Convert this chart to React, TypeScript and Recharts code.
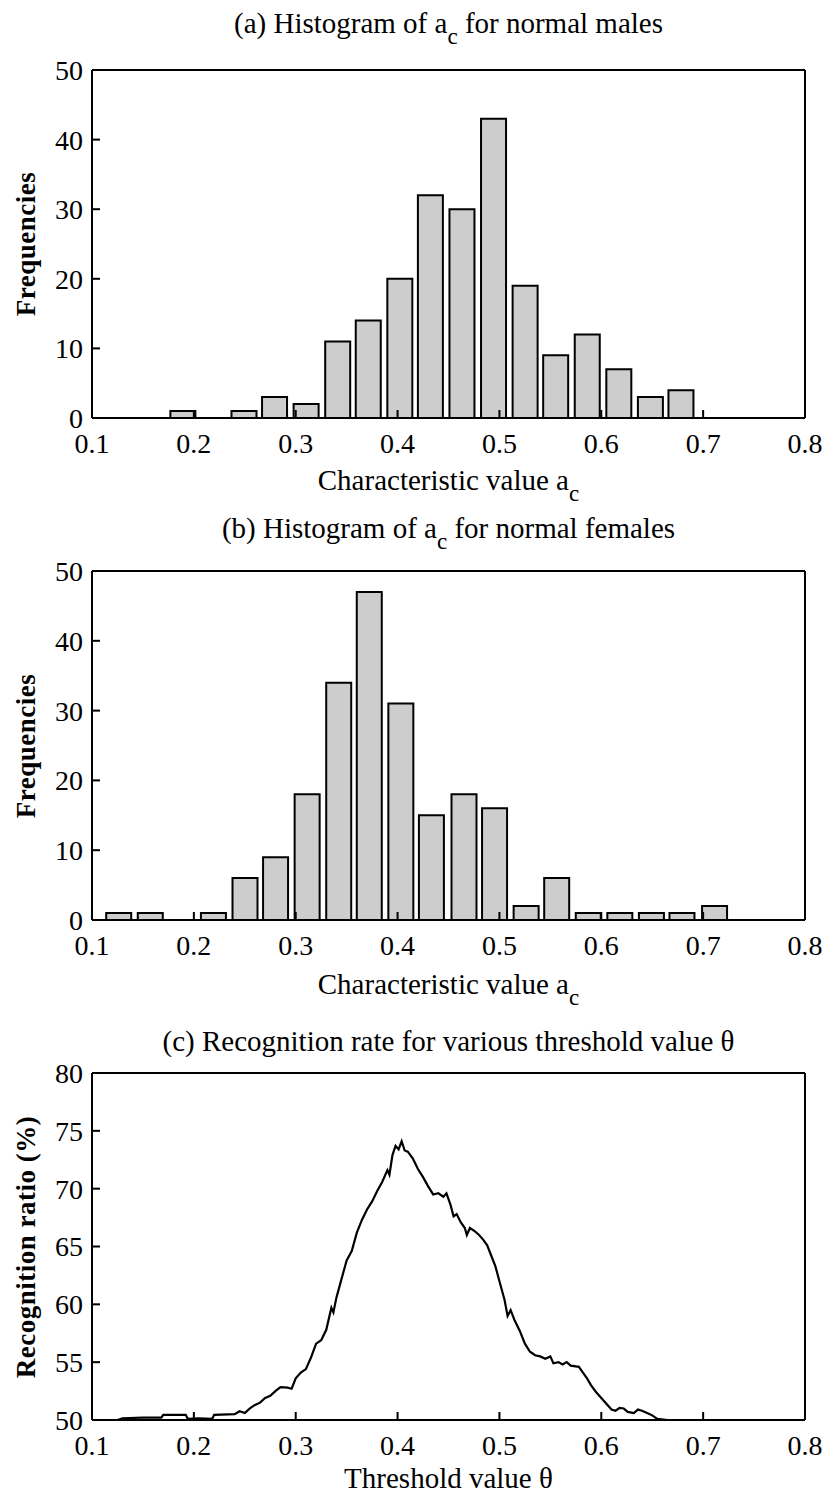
import React from 'react';
import { BarChart, Bar, LineChart, Line, XAxis, YAxis } from 'recharts';

const xTicks = [0.1, 0.2, 0.3, 0.4, 0.5, 0.6, 0.7, 0.8];
const freqTicks = [0, 10, 20, 30, 40, 50];
const rateTicks = [50, 55, 60, 65, 70, 75, 80];

const maleBins = [0.189, 0.219, 0.249, 0.279, 0.31, 0.341, 0.371, 0.402, 0.432, 0.463, 0.494, 0.525, 0.555, 0.586, 0.617, 0.648, 0.678];
const maleCounts = [1, 0, 1, 3, 2, 11, 14, 20, 32, 30, 43, 19, 9, 12, 7, 3, 4];

const femaleBins = [0.126, 0.157, 0.188, 0.219, 0.25, 0.28, 0.311, 0.342, 0.372, 0.403, 0.433, 0.465, 0.495, 0.526, 0.556, 0.587, 0.618, 0.649, 0.679, 0.711];
const femaleCounts = [1, 1, 0, 1, 6, 9, 18, 34, 47, 31, 15, 18, 16, 2, 6, 1, 1, 1, 1, 2];

const thresholds = [
  0.125, 0.13, 0.15, 0.168, 0.17, 0.192, 0.194, 0.205, 0.218, 0.22, 0.24, 0.245, 0.25, 0.255, 0.26, 0.265,
  0.27, 0.275, 0.28, 0.285, 0.292, 0.296, 0.3, 0.305, 0.31, 0.315, 0.32, 0.325, 0.33, 0.335, 0.337, 0.34,
  0.345, 0.35, 0.355, 0.36, 0.365, 0.37, 0.375, 0.38, 0.385, 0.39, 0.392, 0.395, 0.398, 0.401, 0.404, 0.407,
  0.41, 0.415, 0.42, 0.425, 0.43, 0.435, 0.44, 0.445, 0.448, 0.452, 0.455, 0.458, 0.462, 0.466, 0.468, 0.471,
  0.476, 0.48, 0.484, 0.488, 0.492, 0.496, 0.5, 0.505, 0.508, 0.511, 0.515, 0.52, 0.525, 0.53, 0.535, 0.54,
  0.545, 0.55, 0.553, 0.558, 0.562, 0.566, 0.57, 0.578, 0.582, 0.586, 0.59, 0.595, 0.6, 0.605, 0.61, 0.614,
  0.618, 0.622, 0.626, 0.632, 0.636, 0.64, 0.645, 0.65, 0.655, 0.665,
];
const rates = [
  50.0, 50.15, 50.2, 50.2, 50.45, 50.45, 50.1, 50.15, 50.1, 50.45, 50.5, 50.75, 50.6, 51.0, 51.3, 51.5,
  51.9, 52.1, 52.5, 52.85, 52.8, 52.7, 53.6, 54.1, 54.4, 55.4, 56.6, 56.9, 57.8, 59.7, 59.3, 60.6,
  62.2, 63.8, 64.6, 66.2, 67.3, 68.2, 68.9, 69.8, 70.6, 71.6, 71.2, 72.9, 73.7, 73.4, 74.1, 73.3,
  73.2, 72.6, 71.7, 71.0, 70.2, 69.5, 69.6, 69.3, 69.6, 68.6, 67.6, 67.8, 67.1, 66.6, 66.0, 66.6,
  66.3, 66.0, 65.6, 65.1, 64.2, 63.3, 62.0, 60.4, 59.0, 59.5, 58.6, 57.7, 56.6, 55.9, 55.6, 55.5,
  55.3, 55.5, 54.9, 55.0, 54.8, 55.0, 54.7, 54.6, 54.1, 53.6, 53.0, 52.4, 51.9, 51.4, 50.9, 50.8,
  51.05, 51.0, 50.7, 50.6, 50.9, 50.8, 50.6, 50.4, 50.1, 50.0,
];

const FONT = '"Liberation Serif", "Times New Roman", Times, serif';
const W = 825;
const PLOT_LEFT = 92;
const PLOT_RIGHT = 805;
const CX = (PLOT_LEFT + PLOT_RIGHT) / 2;
const MT = 24;

const tickStyle = { fill: '#000', fontSize: 28, fontFamily: FONT };
const lineStyle = { stroke: '#000', strokeWidth: 2 };

function axes(yDomain: number[], yTicks: number[]) {
  return [
    <XAxis
      key="xb"
      dataKey="x"
      type="number"
      domain={[0.1, 0.8]}
      ticks={xTicks}
      allowDataOverflow
      interval={0}
      height={40}
      tickSize={-8}
      tickMargin={23}
      tickLine={lineStyle}
      axisLine={lineStyle}
      tick={tickStyle}
    />,
    <XAxis
      key="xt"
      xAxisId="top"
      orientation="top"
      mirror
      dataKey="x"
      type="number"
      domain={[0.1, 0.8]}
      ticks={xTicks}
      allowDataOverflow
      interval={0}
      tickSize={8}
      tickLine={lineStyle}
      axisLine={lineStyle}
      tick={false}
    />,
    <YAxis
      key="yl"
      type="number"
      domain={yDomain}
      ticks={yTicks}
      allowDataOverflow
      interval={0}
      width={PLOT_LEFT}
      tickSize={-8}
      tickMargin={17}
      tickLine={lineStyle}
      axisLine={lineStyle}
      tick={tickStyle}
    />,
    <YAxis
      key="yr"
      yAxisId="right"
      orientation="right"
      mirror
      type="number"
      domain={yDomain}
      ticks={yTicks}
      allowDataOverflow
      interval={0}
      tickSize={8}
      tickLine={lineStyle}
      axisLine={lineStyle}
      tick={false}
    />,
  ];
}

function Hist({ plotTop, plotBottom, bins, counts }: { plotTop: number; plotBottom: number; bins: number[]; counts: number[] }) {
  const data = bins.map((b, i) => ({ x: b, n: counts[i] }));
  const top = plotTop - MT;
  const height = plotBottom - top + 45;
  return (
    <div style={{ position: 'absolute', left: 0, top, width: W, height }}>
      <BarChart width={W} height={height} data={data} margin={{ top: MT, right: W - PLOT_RIGHT, bottom: 5, left: 0 }}>
        {axes([0, 50], freqTicks)}
        <Bar dataKey="n" fill="#cdcdcd" stroke="#000" strokeWidth={2} barSize={25} isAnimationActive={false} />
      </BarChart>
    </div>
  );
}

function Rate({ plotTop, plotBottom }: { plotTop: number; plotBottom: number }) {
  const data = thresholds.map((t, i) => ({ x: t, r: rates[i] }));
  const top = plotTop - MT;
  const height = plotBottom - top + 45;
  return (
    <div style={{ position: 'absolute', left: 0, top, width: W, height }}>
      <LineChart width={W} height={height} data={data} margin={{ top: MT, right: W - PLOT_RIGHT, bottom: 5, left: 0 }}>
        {axes([50, 80], rateTicks)}
        <Line dataKey="r" type="linear" stroke="#000" strokeWidth={2.2} dot={false} isAnimationActive={false} />
      </LineChart>
    </div>
  );
}

function HText({ baseline, children }: { baseline: number; children: React.ReactNode }) {
  const size = 29;
  return (
    <div
      style={{
        position: 'absolute',
        left: CX - 400,
        width: 800,
        top: baseline - 0.8375 * size,
        textAlign: 'center',
        fontFamily: FONT,
        fontSize: size,
        lineHeight: `${size}px`,
        whiteSpace: 'nowrap',
        color: '#000',
      }}
    >
      {children}
    </div>
  );
}

function VText({ cy, children }: { cy: number; children: React.ReactNode }) {
  return (
    <div
      style={{
        position: 'absolute',
        left: 26 - 200,
        top: cy - 15,
        width: 400,
        height: 30,
        lineHeight: '30px',
        textAlign: 'center',
        transform: 'rotate(-90deg)',
        fontFamily: FONT,
        fontSize: 27,
        fontWeight: 'bold',
        letterSpacing: 0.5,
        whiteSpace: 'nowrap',
        color: '#000',
      }}
    >
      {children}
    </div>
  );
}

const Sub = () => (
  <span style={{ fontSize: 23, position: 'relative', top: 11 }}>c</span>
);

const A_TOP = 70, A_BOT = 418;
const B_TOP = 571, B_BOT = 920;
const C_TOP = 1073, C_BOT = 1420;

export default function App() {
  return (
    <div style={{ position: 'absolute', left: 0, top: 0, width: W, height: 1497, background: '#fff', overflow: 'hidden' }}>
      <HText baseline={33}>(a) Histogram of a<Sub /> for normal males</HText>
      <Hist plotTop={A_TOP} plotBottom={A_BOT} bins={maleBins} counts={maleCounts} />
      <VText cy={(A_TOP + A_BOT) / 2}>Frequencies</VText>
      <HText baseline={490}>Characteristic value a<Sub /></HText>

      <HText baseline={538}>(b) Histogram of a<Sub /> for normal females</HText>
      <Hist plotTop={B_TOP} plotBottom={B_BOT} bins={femaleBins} counts={femaleCounts} />
      <VText cy={(B_TOP + B_BOT) / 2}>Frequencies</VText>
      <HText baseline={994}>Characteristic value a<Sub /></HText>

      <HText baseline={1051}>(c) Recognition rate for various threshold value θ</HText>
      <Rate plotTop={C_TOP} plotBottom={C_BOT} />
      <VText cy={(C_TOP + C_BOT) / 2}>Recognition ratio (%)</VText>
      <HText baseline={1488}>Threshold value θ</HText>
    </div>
  );
}
